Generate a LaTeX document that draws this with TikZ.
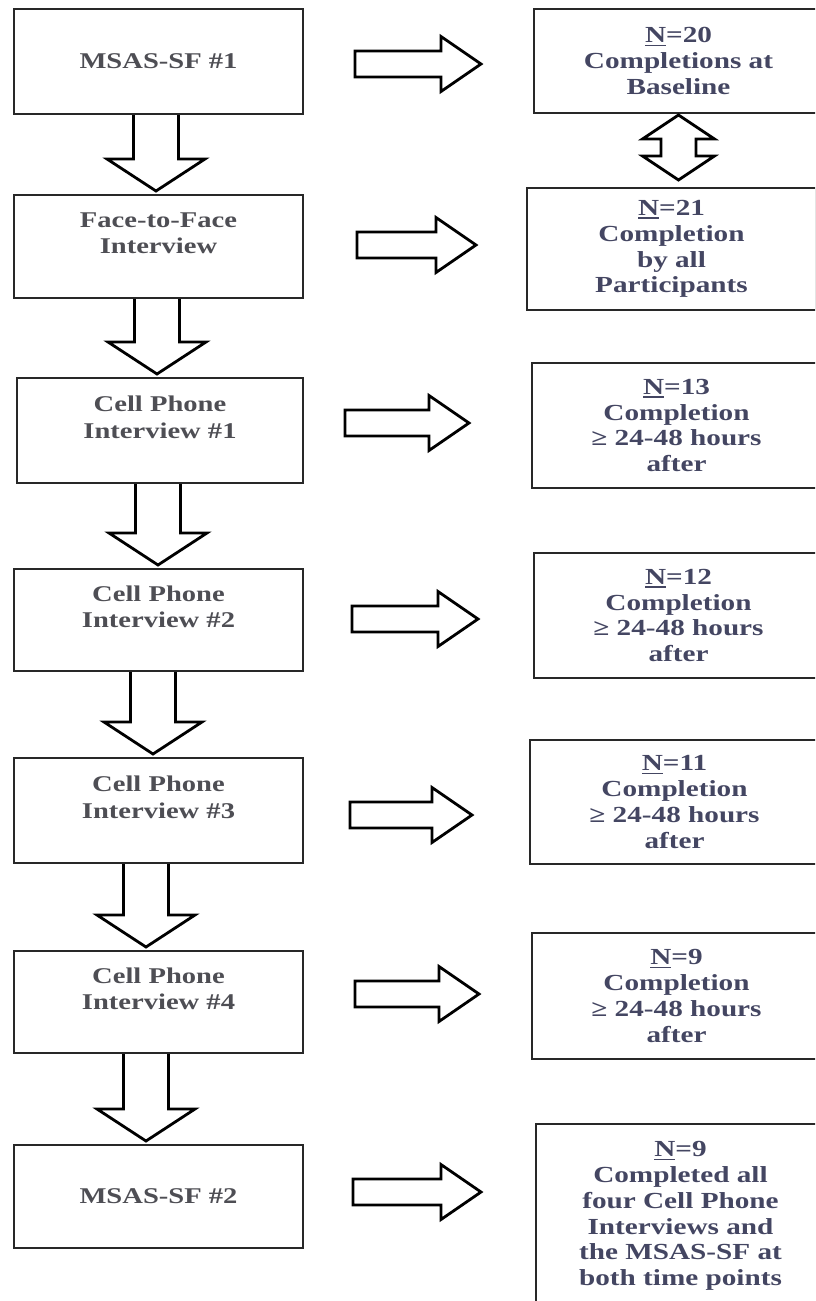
\documentclass[tikz,border=0pt]{standalone}
\usepackage{fontspec}
\setmainfont{Liberation Serif}
\newfontfamily\chartfont[FakeStretch=1.27]{Liberation Serif}
\usetikzlibrary{calc}

\definecolor{lefttext}{RGB}{78,78,84}
\definecolor{righttext}{RGB}{68,70,98}
\definecolor{boxline}{RGB}{40,40,40}

% underlined N with a heavy rule
\newcommand\uN{\setbox0\hbox{N}\rlap{\rule[-3.5pt]{\wd0}{1.8pt}}\box0}

% hollow block arrow pointing down, from the bottom of #1 to the top of #2, axis at x=#3
\newcommand\downblock[3]{%
  \draw[blockarrow] let \p1=(#1.south), \p2=(#2.north) in
    (#3pt-22.5pt,\y1) -- (#3pt-22.5pt,\y2+35pt) -- (#3pt-49pt,\y2+35pt)
    -- (#3pt,\y2+3pt)
    -- (#3pt+49pt,\y2+35pt) -- (#3pt+22.5pt,\y2+35pt) -- (#3pt+22.5pt,\y1);}

% hollow block arrow pointing right, between #1 and #2, axis at depth #3, shifted by #4
\newcommand\rightblock[4]{%
  \draw[blockarrow] let \p1=(#1.east), \p2=(#2.west) in
    (\x1+51pt+#4pt,-#3pt+13pt) -- (\x2-92pt+#4pt,-#3pt+13pt)
    -- (\x2-92pt+#4pt,-#3pt+27.5pt) -- (\x2-52pt+#4pt,-#3pt)
    -- (\x2-92pt+#4pt,-#3pt-27.5pt) -- (\x2-92pt+#4pt,-#3pt-13pt)
    -- (\x1+51pt+#4pt,-#3pt-13pt) -- cycle;}

\tikzset{
  chartbox/.style={draw=boxline, line width=2pt, minimum width=289pt,
    anchor=north west, inner sep=0pt, align=center},
  lbox/.style={chartbox, text=lefttext,
    font=\chartfont\bfseries\fontsize{22.5}{26.5}\selectfont},
  rbox/.style={chartbox, text=righttext,
    font=\chartfont\bfseries\fontsize{23}{25.7}\selectfont},
  blockarrow/.style={draw=black, line width=2.8pt, line join=miter},
}

\begin{document}
\begin{tikzpicture}[x=1pt, y=-1pt]
  \useasboundingbox (0,0) rectangle (815,1301);
  \clip (0,0) rectangle (815,1301);

  % sequence of assessments
  \node[lbox, minimum height=105pt] (l1) at (13,8) {MSAS-SF \#1};
  \node[lbox, minimum height=103pt] (l2) at (13,194) {Face-to-Face\\Interview\\\mbox{}};
  \node[lbox, minimum height=105pt, minimum width=286pt] (l3) at (16,377) {Cell Phone\\Interview \#1\\\mbox{}};
  \node[lbox, minimum height=102pt] (l4) at (13,568) {Cell Phone\\Interview \#2\\\mbox{}};
  \node[lbox, minimum height=105pt] (l5) at (13,757) {Cell Phone\\Interview \#3\\\mbox{}};
  \node[lbox, minimum height=102pt] (l6) at (13,950) {Cell Phone\\Interview \#4\\\mbox{}};
  \node[lbox, minimum height=103pt] (l7) at (13,1144) {MSAS-SF \#2};

  % completion counts
  \node[rbox, minimum height=104pt] (r1) at (533,8) {\uN=20\\Completions at\\Baseline};
  \node[rbox, minimum height=122pt] (r2) at (526,187) {\uN=21\\Completion\\by all\\Participants};
  \node[rbox, minimum height=125pt] (r3) at (531,362) {\uN=13\\Completion\\≥ 24-48 hours\\after};
  \node[rbox, minimum height=125pt] (r4) at (533,552) {\uN=12\\Completion\\≥ 24-48 hours\\after};
  \node[rbox, minimum height=124pt] (r5) at (529,739) {\uN=11\\Completion\\≥ 24-48 hours\\after};
  \node[rbox, minimum height=126pt] (r6) at (531,932) {\uN=9\\Completion\\≥ 24-48 hours\\after};
  \node[rbox, minimum height=184pt] (r7) at (535,1123) {\uN=9\\Completed all\\four Cell Phone\\Interviews and\\the MSAS-SF at\\both time points};

  % flow down the left column
  \downblock{l1}{l2}{156}
  \downblock{l2}{l3}{157}
  \downblock{l3}{l4}{158}
  \downblock{l4}{l5}{153}
  \downblock{l5}{l6}{146}
  \downblock{l6}{l7}{146}

  % each step to its count
  \rightblock{l1}{r1}{64}{0}
  \rightblock{l2}{r2}{245}{2}
  \rightblock{l3}{r3}{423}{-10}
  \rightblock{l4}{r4}{619}{-3}
  \rightblock{l5}{r5}{815}{-5}
  \rightblock{l6}{r6}{994}{0}
  \rightblock{l7}{r7}{1192}{-2}

  % two-headed arrow between the first two counts
  \draw[blockarrow] let \p1=(r1.south), \p2=(r2.north) in
    (\x1,\y1-1pt) -- (\x1+36pt,\y1-25pt) -- (\x1+17.5pt,\y1-25pt)
    -- (\x1+17.5pt,\y2+31pt) -- (\x1+36pt,\y2+31pt) -- (\x1,\y2+7pt)
    -- (\x1-36pt,\y2+31pt) -- (\x1-17.5pt,\y2+31pt)
    -- (\x1-17.5pt,\y1-25pt) -- (\x1-36pt,\y1-25pt) -- cycle;
\end{tikzpicture}
\end{document}
